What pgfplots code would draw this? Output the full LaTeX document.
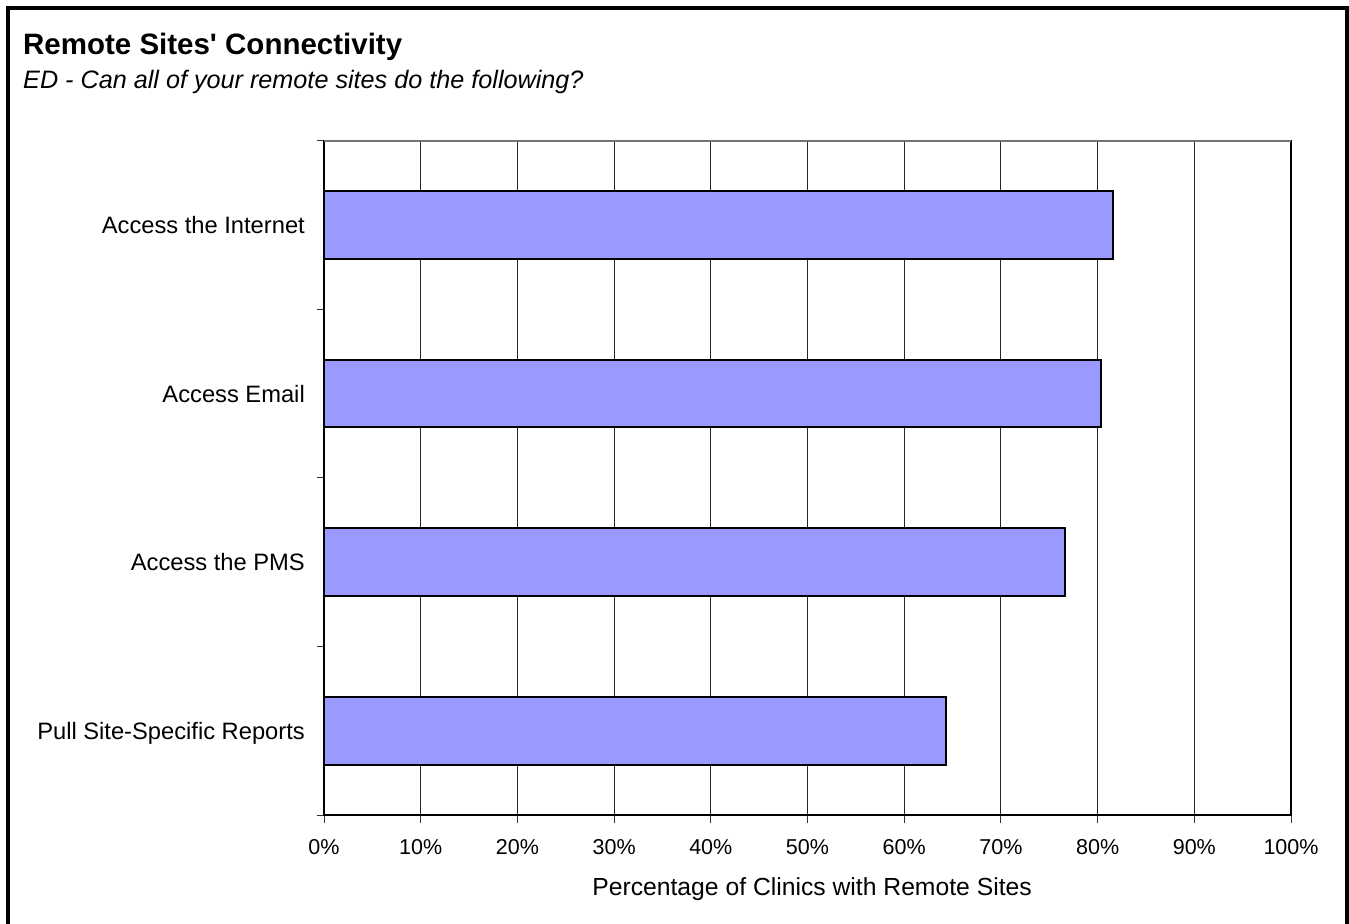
\documentclass[border=0pt]{standalone}
\usepackage{fontspec}
\setmainfont{Liberation Sans}
\usepackage{pgfplots}
\pgfplotsset{compat=1.18}
\definecolor{barfill}{HTML}{9999FF}
\begin{document}
\begin{tikzpicture}[x=1bp,y=1bp]
\begin{axis}[
  at={(324bp,108bp)}, anchor=south west,
  scale only axis, width=967bp, height=674bp,
  xbar, bar width=67.5bp,
  xmin=0, xmax=100, ymin=0.5, ymax=4.5,
  tick align=outside, tick pos=left, major tick length=7.5bp,
  xtick={0,10,...,100},
  xticklabels={0\%,10\%,20\%,30\%,40\%,50\%,60\%,70\%,80\%,90\%,100\%},
  xticklabel style={anchor=base, inner sep=0pt, yshift=-31.5bp, font=\fontsize{21.6}{26}\selectfont},
  ytick={0.5,1.5,2.5,3.5,4.5},
  yticklabels={},
  extra y ticks={1,2,3,4},
  extra y tick labels={Pull Site-Specific Reports, Access the PMS, Access Email, Access the Internet},
  extra y tick style={major tick length=0pt, yticklabel style={anchor=base east, inner sep=0pt, xshift=-19bp, yshift=-8.4bp, font=\fontsize{23.8}{28}\selectfont}},
  xmajorgrids,
  major grid style={black!85, line width=1.1bp},
  axis line style={black, line width=1.3bp},
  tick style={black!80, line width=1bp},
  xlabel={Percentage of Clinics with Remote Sites},
  xlabel style={at={(axis description cs:0.5047,0)}, anchor=base, inner sep=0pt, yshift=-80bp, font=\fontsize{24.8}{30}\selectfont},
]
\addplot[fill=barfill, draw=black, line width=2bp] coordinates {(64.3,1) (76.6,2) (80.3,3) (81.6,4)};
\draw[black!55, line width=1.3bp] (axis cs:0,4.5) -- (axis cs:100,4.5);
\end{axis}
\node[anchor=base west, inner sep=0pt] at (23,868) {\fontsize{29.6}{34}\selectfont\bfseries Remote Sites\textquotesingle\ Connectivity};
\node[anchor=base west, inner sep=0pt] at (23,834) {\fontsize{25.3}{30}\selectfont\itshape ED - Can all of your remote sites do the following?};
\draw[line width=4bp] (8,-20) -- (8,915) -- (1347,915) -- (1347,-20);
\pgfresetboundingbox
\path[use as bounding box] (0,0) rectangle (1349,923);
\end{tikzpicture}
\end{document}
